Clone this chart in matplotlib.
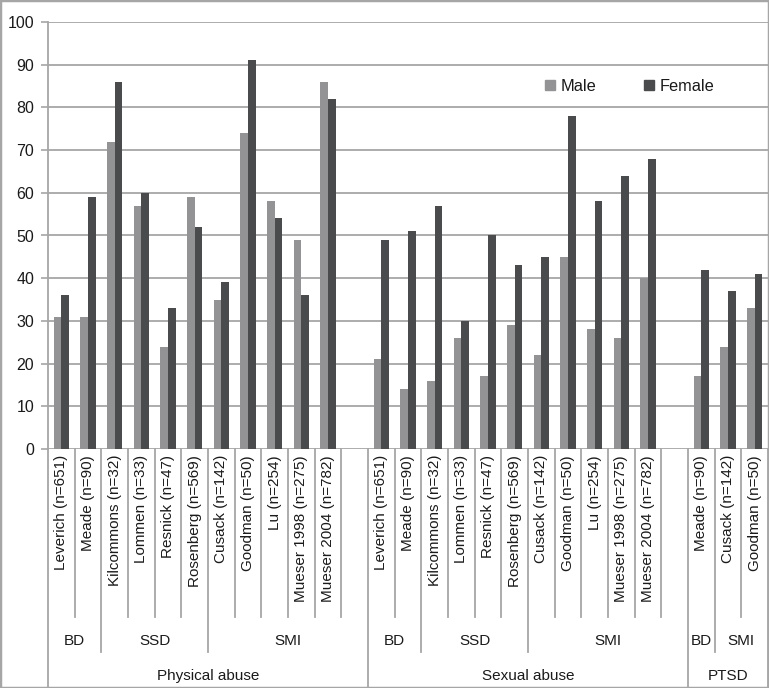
import matplotlib
matplotlib.use('Agg')
import matplotlib.pyplot as plt
from matplotlib.patches import Rectangle
from matplotlib.transforms import blended_transform_factory

plt.rcParams['font.family'] = ['Liberation Sans', 'DejaVu Sans']

# ---- data ----
studies = ["Leverich (n=651)", "Meade (n=90)", "Kilcommons (n=32)", "Lommen (n=33)",
           "Resnick (n=47)", "Rosenberg (n=569)", "Cusack (n=142)", "Goodman (n=50)",
           "Lu (n=254)", "Mueser 1998 (n=275)", "Mueser 2004 (n=782)", "",
           "Leverich (n=651)", "Meade (n=90)", "Kilcommons (n=32)", "Lommen (n=33)",
           "Resnick (n=47)", "Rosenberg (n=569)", "Cusack (n=142)", "Goodman (n=50)",
           "Lu (n=254)", "Mueser 1998 (n=275)", "Mueser 2004 (n=782)", "",
           "Meade (n=90)", "Cusack (n=142)", "Goodman (n=50)"]
male = [31, 31, 72, 57, 24, 59, 35, 74, 58, 49, 86, None,
        21, 14, 16, 26, 17, 29, 22, 45, 28, 26, 40, None,
        17, 24, 33]
female = [36, 59, 86, 60, 33, 52, 39, 91, 54, 36, 82, None,
          49, 51, 57, 30, 50, 43, 45, 78, 58, 64, 68, None,
          42, 37, 41]
diagnosis_labels = ["BD", "SSD", "SMI", "BD", "SSD", "SMI", "BD", "SMI"]
diagnosis_sizes = [2, 4, 6, 2, 4, 6, 1, 2]
outcome_labels = ["Physical abuse", "Sexual abuse", "PTSD"]
outcome_sizes = [12, 12, 3]
yticks = list(range(0, 101, 10))

# ---- style ----
male_c = '#939395'
female_c = '#4a4b4d'
line_c = '#a6a6a6'
txt_c = '#1a1a1a'
W, H = 769, 688

fig = plt.figure(figsize=(W / 100, H / 100), dpi=100)
ax = fig.add_axes([48 / W, 1 - 449 / H, 720 / W, 427 / H])

n = len(studies)
bw = 0.285
for i in range(n):
    if male[i] is not None:
        ax.bar(i + 0.5 - bw / 2, male[i], width=bw, color=male_c, zorder=3)
    if female[i] is not None:
        ax.bar(i + 0.5 + bw / 2, female[i], width=bw, color=female_c, zorder=3)

ax.set_xlim(0, n)
ax.set_ylim(0, 100)
ax.set_yticks(yticks)
ax.set_yticklabels([str(v) for v in yticks], fontsize=11.5, color=txt_c)
ax.tick_params(axis='y', length=5, width=1.2, color=line_c, pad=5)
ax.set_xticks([])
for y in yticks:
    ax.axhline(y, color=line_c, lw=1.3, zorder=1)
for s in ['top', 'right', 'bottom']:
    ax.spines[s].set_visible(False)
ax.spines['left'].set_color(line_c)
ax.spines['left'].set_linewidth(1.3)

tr = blended_transform_factory(ax.transData, ax.transAxes)
def fy(py):
    return (449 - py) / 427

# study labels
for i, lab in enumerate(studies):
    if lab:
        ax.text(i + 0.5, fy(455), lab, transform=tr, rotation=90, ha='center',
                va='top', fontsize=11, color=txt_c)

# separators
diag_bounds = []
pos = 0
for s in diagnosis_sizes:
    pos += s
    diag_bounds.append(pos)
out_bounds = []
pos = 0
for s in outcome_sizes:
    pos += s
    out_bounds.append(pos)

for b in range(0, n + 1):
    if b == 0 or b in out_bounds:
        y_end = fy(688)
    elif b in diag_bounds:
        y_end = fy(652)
    else:
        y_end = fy(617)
    ax.plot([b, b], [0, y_end], transform=tr, color=line_c, lw=1.3, clip_on=False)

# diagnosis labels
start = 0
for lab, s in zip(diagnosis_labels, diagnosis_sizes):
    ax.text(start + s / 2, fy(641), lab, transform=tr, ha='center', va='center',
            fontsize=11, color=txt_c)
    start += s

start = 0
for lab, s in zip(outcome_labels, outcome_sizes):
    ax.text(start + s / 2, fy(676), lab, transform=tr, ha='center', va='center',
            fontsize=11, color=txt_c)
    start += s

# legend
handles = [Rectangle((0, 0), 1, 1, color=male_c), Rectangle((0, 0), 1, 1, color=female_c)]
ax.legend(handles, ['Male', 'Female'], loc='center', bbox_to_anchor=(0.808, 0.85),
          ncol=2, frameon=False, fontsize=11.8, handlelength=0.6, handleheight=0.6,
          handletextpad=0.35, columnspacing=2.9, labelcolor=txt_c)

# outer frame
fig.add_artist(Rectangle((0, 0), 1, 1, transform=fig.transFigure, fill=False,
                         edgecolor=line_c, lw=2.5))

fig.savefig('out.png', dpi=100)
